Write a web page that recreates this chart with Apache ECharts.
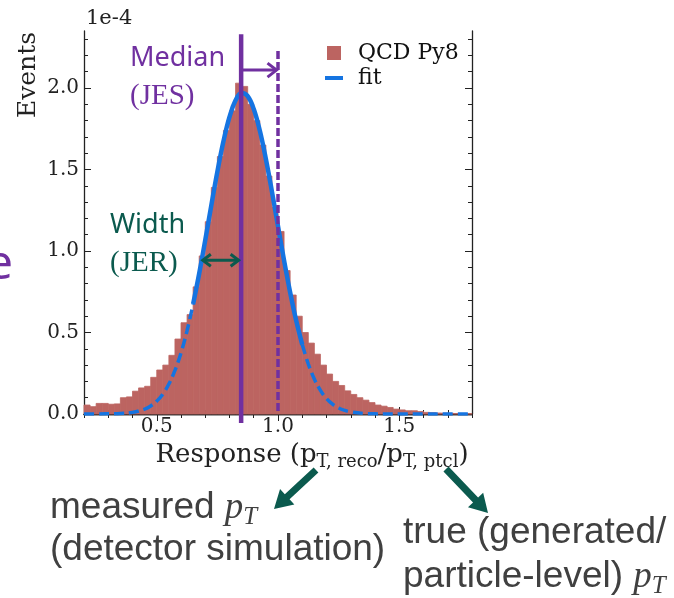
<!DOCTYPE html>
<html><head><meta charset="utf-8">
<script src="https://cdn.jsdelivr.net/npm/echarts@6/dist/echarts.min.js"></script>
<style>html,body{margin:0;padding:0;background:#fff;}#c{width:674px;height:598px;}</style>
</head><body><div id="c"></div>
<script>
// ---------- data ----------
const binEdges = [0.2,0.225,0.25,0.275,0.3,0.325,0.35,0.375,0.4,0.425,0.45,0.475,0.5,0.525,0.55,0.575,0.6,0.625,0.65,0.675,0.7,0.725,0.75,0.775,0.8,0.825,0.85,0.875,0.9,0.925,0.95,0.975,1.0,1.025,1.05,1.075,1.1,1.125,1.15,1.175,1.2,1.225,1.25,1.275,1.3,1.325,1.35,1.375,1.4,1.425,1.45,1.475,1.5,1.525,1.55,1.575,1.6,1.625,1.65,1.675,1.7,1.725,1.75,1.775,1.8];
const counts = [0.055,0.045,0.065,0.065,0.06,0.062,0.10,0.105,0.14,0.16,0.17,0.225,0.27,0.30,0.36,0.46,0.56,0.61,0.78,0.97,1.18,1.39,1.58,1.74,1.86,2.03,2.01,1.90,1.80,1.65,1.46,1.27,1.12,0.88,0.73,0.60,0.50,0.435,0.367,0.30,0.245,0.20,0.175,0.142,0.12,0.10,0.085,0.07,0.055,0.048,0.04,0.03,0.025,0.02,0.02,0.015,0.01,0.008,0.006,0.005,0.004,0.003,0.003,0.002];
const fitX = [0.2,0.25,0.3,0.35,0.4,0.45,0.475,0.5,0.525,0.55,0.575,0.6,0.625,0.65,0.675,0.7,0.725,0.75,0.775,0.8,0.825,0.85,0.875,0.9,0.925,0.95,0.975,1.0,1.025,1.05,1.075,1.1,1.125,1.15,1.175,1.2,1.225,1.25,1.275,1.3,1.35,1.4,1.5,1.6,1.7,1.8];
const fitY = [0.0,0.0,0.001,0.003,0.01,0.03,0.049,0.079,0.122,0.184,0.267,0.375,0.511,0.675,0.862,1.067,1.28,1.487,1.673,1.823,1.925,1.969,1.95,1.871,1.739,1.565,1.365,1.152,0.942,0.747,0.573,0.426,0.307,0.214,0.145,0.0945,0.060,0.0368,0.0219,0.0126,0.0038,0.001,0,0,0,0];
const fitRange = [0.65, 1.1];
const xTickValues = [0.5, 1.0, 1.5];
const xMinorValues = [0.2,0.3,0.4,0.5,0.6,0.7,0.8,0.9,1.0,1.1,1.2,1.3,1.4,1.5,1.6,1.7,1.8];
const yTickValues = [0, 0.5, 1.0, 1.5, 2.0];
const yMinorValues = [0,0.1,0.2,0.3,0.4,0.5,0.6,0.7,0.8,0.9,1.0,1.1,1.2,1.3,1.4,1.5,1.6,1.7,1.8,1.9,2.0,2.1,2.2,2.3];
const medianX = 0.848;
const nominalX = 1.0;
const jerLeftX = 0.69;

// ---------- styles ----------
const serif = 'DejaVu Serif';
const histColor = '#bc6461';
const blue = '#1574e1';
const purple = '#7030a0';
const green = '#0b5a4e';
const axisColor = '#222';
const gray = '#404040';

const chart = echarts.init(document.getElementById('c'));

const histData = counts.map((v, i) => [binEdges[i], binEdges[i + 1], v]);
const pairs = fitX.map((x, i) => [x, fitY[i]]);
const fitCore = pairs.filter(p => p[0] >= fitRange[0] && p[0] <= fitRange[1]);
const fitLeft = pairs.filter(p => p[0] <= fitRange[0]);
const fitRight = pairs.filter(p => p[0] >= fitRange[1]);

function xAxisDef(pos, major, labels) {
  return {
    type: 'value', min: 0.2, max: 1.8, position: pos,
    axisLine: { show: major, lineStyle: { color: axisColor, width: 1.3 } },
    splitLine: { show: false },
    axisTick: { show: true, inside: true, length: major ? 7 : 4,
      customValues: major ? xTickValues : xMinorValues,
      lineStyle: { color: axisColor, width: 1 } },
    axisLabel: { show: labels, customValues: xTickValues, margin: 3,
      formatter: v => v.toFixed(1), fontFamily: serif, fontSize: 20, color: '#222' }
  };
}
function yAxisDef(pos, major, labels) {
  return {
    type: 'value', min: 0, max: 2.35, position: pos,
    axisLine: { show: major, lineStyle: { color: axisColor, width: 1.3 } },
    splitLine: { show: false },
    axisTick: { show: true, inside: true, length: major ? 7 : 4,
      customValues: major ? yTickValues : yMinorValues,
      lineStyle: { color: axisColor, width: 1 } },
    axisLabel: { show: labels, customValues: yTickValues, margin: 5,
      formatter: v => v.toFixed(1), fontFamily: serif, fontSize: 20, color: '#222' }
  };
}

const xa0 = xAxisDef('bottom', true, true);
xa0.name = '{m|Response (p}{s|T, reco}{m|/p}{s|T, ptcl}{m|)}';
xa0.nameLocation = 'middle';
xa0.nameGap = 23;
xa0.nameTextStyle = {
  padding: [0, 0, 0, 68],
  rich: {
    m: { fontFamily: serif, fontSize: 26, color: '#222', lineHeight: 32, verticalAlign: 'middle' },
    s: { fontFamily: serif, fontSize: 18, color: '#222', lineHeight: 18, verticalAlign: 'bottom' }
  }
};

const option = {
  animation: false,
  backgroundColor: '#fff',
  grid: { left: 84, right: 202, top: 31, bottom: 184 },
  xAxis: [xa0, xAxisDef('bottom', false, false), xAxisDef('top', true, false), xAxisDef('top', false, false)],
  yAxis: [yAxisDef('left', true, true), yAxisDef('left', false, false), yAxisDef('right', true, false), yAxisDef('right', false, false)],
  legend: [
    { left: 322, top: 37, selectedMode: false, itemWidth: 14, itemHeight: 14,
      data: [{ name: 'QCD Py8', icon: 'rect' }],
      formatter: n => '{p|}{t|' + n + '}',
      textStyle: { rich: { p: { width: 12 }, t: { fontFamily: serif, fontSize: 22, color: '#111', lineHeight: 26 } } } },
    { left: 320, top: 62, selectedMode: false, itemWidth: 18, itemHeight: 4,
      data: [{ name: 'fit', icon: 'rect' }],
      formatter: n => '{p|}{t|' + n + '}',
      textStyle: { rich: { p: { width: 10 }, t: { fontFamily: serif, fontSize: 22, color: '#111', lineHeight: 26 } } } }
  ],
  series: [
    { name: 'QCD Py8', type: 'custom', xAxisIndex: 0, yAxisIndex: 0,
      itemStyle: { color: histColor }, encode: { x: [0, 1], y: 2 }, z: 1,
      renderItem: (params, api) => {
        const p0 = api.coord([api.value(0), api.value(2)]);
        const p1 = api.coord([api.value(1), 0]);
        return { type: 'rect', shape: { x: p0[0], y: p0[1], width: p1[0] - p0[0], height: p1[1] - p0[1] },
          style: { fill: histColor, stroke: histColor, lineWidth: 0.8 } };
      },
      data: histData },
    { name: 'fit', type: 'line', symbol: 'none', smooth: 0.4, z: 3, color: blue,
      lineStyle: { color: blue, width: 4.5 }, data: fitCore },
    { name: 'fit', type: 'line', symbol: 'none', smooth: 0.4, z: 3, color: blue,
      lineStyle: { color: blue, width: 3.5, type: [10, 5] }, data: fitLeft },
    { name: 'fit', type: 'line', symbol: 'none', smooth: 0.4, z: 3, color: blue,
      lineStyle: { color: blue, width: 3.5, type: [10, 5] }, data: fitRight }
  ]
};
chart.setOption(option);

// ---------- annotations ----------
const P = (x, y) => chart.convertToPixel({ xAxisIndex: 0, yAxisIndex: 0 }, [x, y]);
function blockArrow(x1, y1, x2, y2, sw, hw, hl) {
  const dx = x2 - x1, dy = y2 - y1, L = Math.hypot(dx, dy);
  const ux = dx / L, uy = dy / L, nx = -uy, ny = ux;
  const bx = x2 - ux * hl, by = y2 - uy * hl;
  return [[x1 + nx * sw / 2, y1 + ny * sw / 2], [bx + nx * sw / 2, by + ny * sw / 2], [bx + nx * hw / 2, by + ny * hw / 2],
    [x2, y2], [bx - nx * hw / 2, by - ny * hw / 2], [bx - nx * sw / 2, by - ny * sw / 2], [x1 - nx * sw / 2, y1 - ny * sw / 2]];
}
const mTop = P(medianX, 2.33), mBot = P(medianX, -0.055);
const nTop = P(nominalX, 2.228), nBot = P(nominalX, 0);
const jesY = P(medianX, 2.11)[1];
const jerY = P(medianX, 0.943)[1];
const jerL = P(jerLeftX, 0)[0];
const tip = nTop[0] - 1.5;
const mx = mTop[0];
const graphics = [
  { type: 'line', z: 100, shape: { x1: mx, y1: mTop[1], x2: mx, y2: mBot[1] }, style: { stroke: purple, lineWidth: 4.5 } },
  { type: 'line', z: 100, shape: { x1: nTop[0], y1: nTop[1], x2: nBot[0], y2: nBot[1] }, style: { stroke: purple, lineWidth: 3.5, lineDash: [8, 3] } },
  { type: 'line', z: 100, shape: { x1: mx, y1: jesY, x2: tip, y2: jesY }, style: { stroke: purple, lineWidth: 3 } },
  { type: 'polyline', z: 100, shape: { points: [[tip - 9, jesY - 7], [tip, jesY], [tip - 9, jesY + 7]] }, style: { stroke: purple, lineWidth: 3, fill: null } },
  { type: 'line', z: 100, shape: { x1: jerL, y1: jerY, x2: mx - 2.5, y2: jerY }, style: { stroke: green, lineWidth: 3 } },
  { type: 'polyline', z: 100, shape: { points: [[jerL + 8, jerY - 6], [jerL, jerY], [jerL + 8, jerY + 6]] }, style: { stroke: green, lineWidth: 3, fill: null } },
  { type: 'polyline', z: 100, shape: { points: [[mx - 10.5, jerY - 6], [mx - 2.5, jerY], [mx - 10.5, jerY + 6]] }, style: { stroke: green, lineWidth: 3, fill: null } },
  { type: 'text', z: 100, style: { text: 'Median', x: 130, y: 58, verticalAlign: 'middle', font: '27px "Noto Sans"', fill: purple } },
  { type: 'text', z: 100, style: { text: '(JES)', x: 130, y: 96, verticalAlign: 'middle', font: '29px "Liberation Serif"', fill: purple } },
  { type: 'text', z: 100, style: { text: 'Width', x: 110, y: 225, verticalAlign: 'middle', font: '27px "Noto Sans"', fill: green } },
  { type: 'text', z: 100, style: { text: '(JER)', x: 110, y: 263, verticalAlign: 'middle', font: '29px "Liberation Serif"', fill: green } },
  { type: 'text', z: 100, style: { text: 'e', x: 13, y: 265, align: 'right', verticalAlign: 'middle', font: '48px "Noto Sans"', fill: purple } },
  { type: 'text', z: 100, x: 28, y: 75, rotation: Math.PI / 2, style: { text: 'Events', x: 0, y: 0, align: 'center', verticalAlign: 'middle', font: '25px "DejaVu Serif"', fill: '#222' } },
  { type: 'text', z: 100, style: { text: '1e-4', x: 86, y: 19, verticalAlign: 'middle', font: '21px "DejaVu Serif"', fill: '#222' } },
  { type: 'polygon', z: 100, shape: { points: blockArrow(316, 470, 274, 509, 7, 21, 18) }, style: { fill: green } },
  { type: 'polygon', z: 100, shape: { points: blockArrow(446, 469, 488, 513, 7, 21, 18) }, style: { fill: green } }
];
const bottomRich = {
  r: { fontFamily: 'Liberation Sans', fontSize: 37, fill: gray, lineHeight: 44, verticalAlign: 'middle' },
  i: { fontFamily: 'Liberation Serif', fontStyle: 'italic', fontSize: 37, fill: gray, lineHeight: 44, verticalAlign: 'middle' },
  s: { fontFamily: 'Liberation Serif', fontStyle: 'italic', fontSize: 25, fill: gray, lineHeight: 25, verticalAlign: 'bottom' }
};
[['{r|measured }{i|p}{s|T}', 50, 508], ['{r|(detector simulation)}', 50, 550],
 ['{r|true (generated/}', 403, 533], ['{r|particle-level) }{i|p}{s|T}', 403, 577]].forEach(t => {
  graphics.push({ type: 'text', z: 100, style: { text: t[0], x: t[1], y: t[2], verticalAlign: 'middle', fill: gray, rich: bottomRich } });
});
chart.setOption({ graphic: graphics });
</script></body></html>
